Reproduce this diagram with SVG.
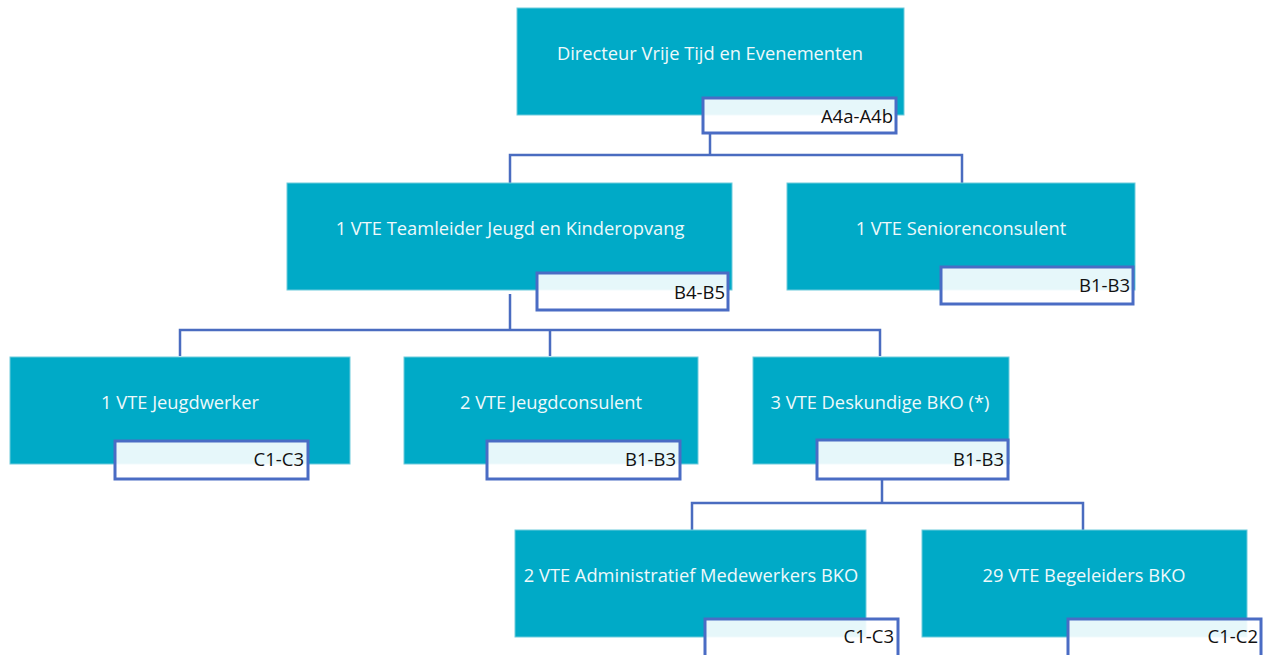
<svg xmlns="http://www.w3.org/2000/svg" width="1263" height="655" viewBox="0 0 1263 655">
<style>
.box{fill:#00aac7;stroke:#6fcbdc;stroke-width:1}
.lbl{fill:#ffffff;fill-opacity:0.9;stroke:#4a6cc4;stroke-width:3}
.t{font-family:"Open Sans","Noto Sans",sans-serif;font-size:18.3px;fill:#eef9fb;text-anchor:middle}
.g{font-family:"Open Sans","Noto Sans",sans-serif;font-size:18.5px;fill:#111111;text-anchor:end}
.c{fill:none;stroke:#4a6cc0;stroke-width:2.5}
</style>
<rect width="1263" height="655" fill="#ffffff"/>
<g id="connectors">
<path class="c" d="M710 133 V155 M510 183 V155 H962 V183"/>
<path class="c" d="M510 294 V330 M180 356 V330 H880 V356 M550 330 V356"/>
<path class="c" d="M882 479 V503 M692 530 V503 H1083 V530"/>
</g>
<g id="n1"><rect class="box" x="517" y="8" width="387" height="107"/><text class="t" x="710" y="60">Directeur Vrije Tijd en Evenementen</text><rect class="lbl" x="703" y="98" width="193" height="35"/><text class="g" x="893" y="123">A4a-A4b</text></g>
<g id="n2"><rect class="box" x="287" y="183" width="445" height="107"/><text class="t" x="510" y="235">1 VTE Teamleider Jeugd en Kinderopvang</text><rect class="lbl" x="537" y="273" width="191" height="37"/><text class="g" x="725" y="299">B4-B5</text></g>
<g id="n3"><rect class="box" x="787" y="183" width="348" height="107"/><text class="t" x="961" y="235">1 VTE Seniorenconsulent</text><rect class="lbl" x="941" y="267" width="192" height="37"/><text class="g" x="1130" y="292">B1-B3</text></g>
<g id="n4"><rect class="box" x="10" y="357" width="340" height="107"/><text class="t" x="180" y="409">1 VTE Jeugdwerker</text><rect class="lbl" x="115" y="441" width="193" height="38"/><text class="g" x="304" y="466">C1-C3</text></g>
<g id="n5"><rect class="box" x="404" y="357" width="294" height="107"/><text class="t" x="551" y="409">2 VTE Jeugdconsulent</text><rect class="lbl" x="487" y="441" width="193" height="38"/><text class="g" x="676" y="466">B1-B3</text></g>
<g id="n6"><rect class="box" x="753" y="357" width="256" height="107"/><text class="t" x="880" y="409">3 VTE Deskundige BKO (*)</text><rect class="lbl" x="817" y="440" width="191" height="39"/><text class="g" x="1004" y="466">B1-B3</text></g>
<g id="n7"><rect class="box" x="515" y="530" width="351" height="107"/><text class="t" x="691" y="582">2 VTE Administratief Medewerkers BKO</text><rect class="lbl" x="705" y="619" width="193" height="45"/><text class="g" x="894" y="643">C1-C3</text></g>
<g id="n8"><rect class="box" x="922" y="530" width="325" height="107"/><text class="t" x="1084" y="582">29 VTE Begeleiders BKO</text><rect class="lbl" x="1068" y="619" width="193" height="45"/><text class="g" x="1258" y="643">C1-C2</text></g>
</svg>
